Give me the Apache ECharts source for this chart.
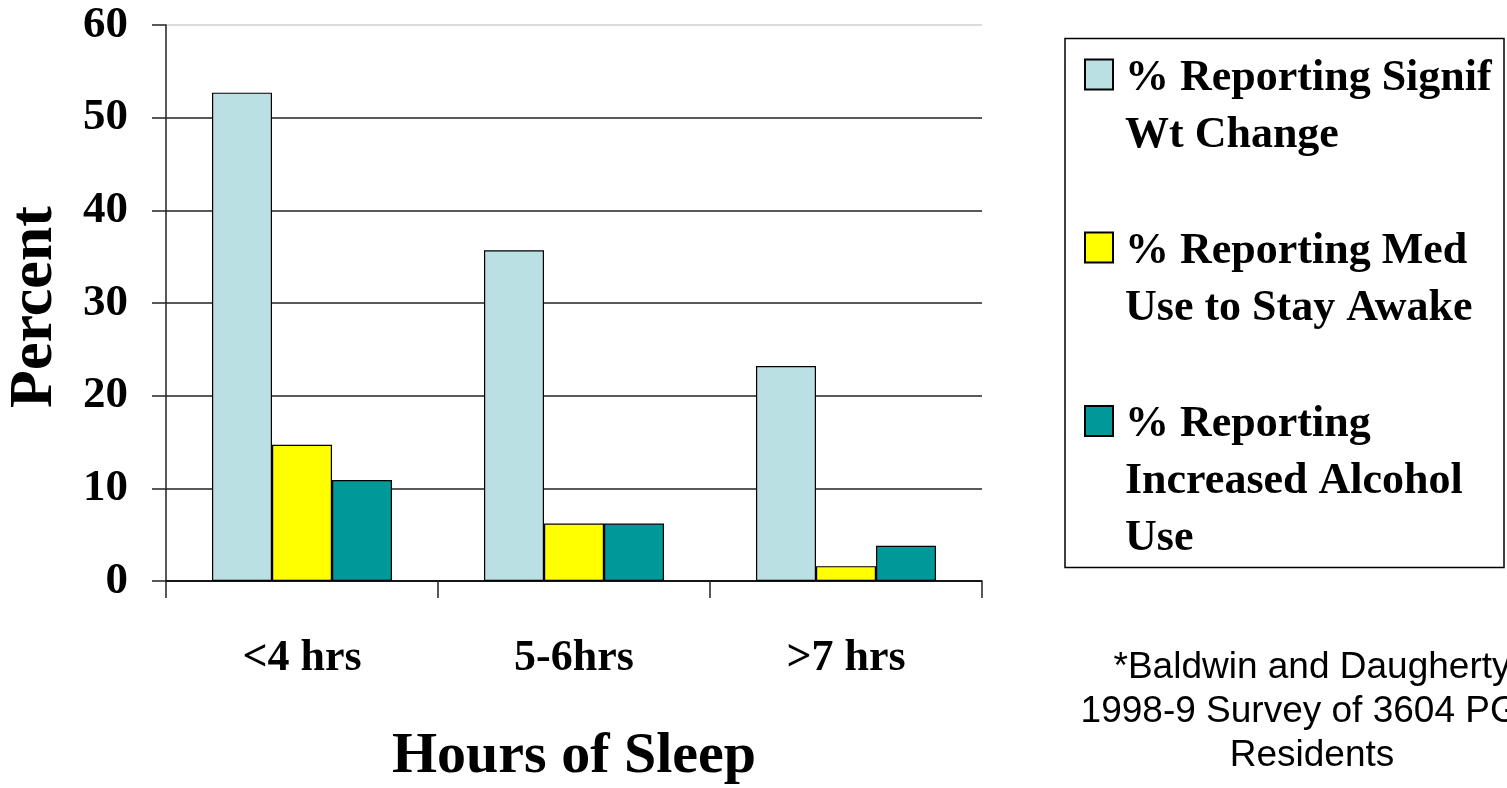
<!DOCTYPE html>
<html>
<head>
<meta charset="utf-8">
<script src="https://cdn.jsdelivr.net/npm/echarts@6/dist/echarts.min.js"></script>
<style>
html,body{margin:0;padding:0;background:#fff;}
#chart{width:1507px;height:788px;}
</style>
</head>
<body>
<div id="chart"></div>
<script>
const categories = ['<4 hrs', '5-6hrs', '>7 hrs'];
const wtChange = [52.7, 35.7, 23.2];
const medUse = [14.7, 6.2, 1.6];
const alcoholUse = [10.9, 6.2, 3.8];
const seriesNames = [
  '% Reporting Signif\nWt Change',
  '% Reporting Med\nUse to Stay Awake',
  '% Reporting\nIncreased Alcohol\nUse'
];
const seriesColors = ['#BBE0E3', '#FFFF00', '#009999'];
const yAxisTitle = 'Percent';
const xAxisTitle = 'Hours of Sleep';
const footnote = ['*Baldwin and Daugherty', '1998-9 Survey of 3604 PGY', 'Residents'];

const SERIF = '"Liberation Serif", "Times New Roman", serif';
const SANS = '"Liberation Sans", Arial, sans-serif';

const chart = echarts.init(document.getElementById('chart'), null, {renderer: 'canvas'});

const legendLineH = 57;
const legendShift = 4;
const legendTops = [-15, 158, 274.5];
function makeLegend(i) {
  const lines = seriesNames[i].split('\n').length;
  const spacerH = (lines - 1) * legendLineH + 2 * legendShift;
  return {
    data: [seriesNames[i]],
    left: 1084,
    top: legendTops[i],
    padding: 0,
    orient: 'vertical',
    itemWidth: 28,
    itemHeight: 30,
    icon: 'rect',
    selectedMode: false,
    formatter: name => '{s| }\n' + name.split('\n').map(l => '{t|' + l + '}').join('\n'),
    textStyle: {
      fontFamily: SERIF,
      fontWeight: 'bold',
      fontSize: 44,
      lineHeight: legendLineH,
      color: '#000',
      padding: [0, 0, 0, 7],
      backgroundColor: 'rgba(0,0,0,0)',
      rich: {
        s: {fontSize: 8, lineHeight: spacerH, height: spacerH},
        t: {fontFamily: SERIF, fontWeight: 'bold', fontSize: 44, lineHeight: legendLineH, color: '#000'}
      }
    }
  };
}

const dataSets = [wtChange, medUse, alcoholUse];

chart.setOption({
  animation: false,
  backgroundColor: '#fff',
  grid: {left: 166, right: 525, top: 25, bottom: 207, containLabel: false, outerBoundsMode: 'none'},
  legend: [makeLegend(0), makeLegend(1), makeLegend(2)],
  xAxis: {
    type: 'category',
    data: categories,
    boundaryGap: true,
    name: xAxisTitle,
    nameLocation: 'middle',
    nameGap: 147,
    nameTextStyle: {fontFamily: SERIF, fontWeight: 'bold', fontSize: 58, color: '#000'},
    axisLine: {show: true, lineStyle: {color: '#000', width: 1.5}},
    axisTick: {show: true, length: 17, inside: false, lineStyle: {color: '#222', width: 1.5}},
    axisLabel: {fontFamily: SERIF, fontWeight: 'bold', fontSize: 44, color: '#000', margin: 56},
    splitLine: {show: false}
  },
  yAxis: {
    type: 'value',
    min: 0,
    max: 60,
    interval: 10,
    name: yAxisTitle,
    nameLocation: 'middle',
    nameGap: 100,
    nameRotate: 90,
    nameTextStyle: {fontFamily: SERIF, fontWeight: 'bold', fontSize: 62, color: '#000', padding: [0, 8, 0, 0]},
    axisLine: {show: true, lineStyle: {color: '#222', width: 1.5}},
    axisTick: {show: true, length: 14, inside: false, lineStyle: {color: '#222', width: 1.5}},
    axisLabel: {fontFamily: SERIF, fontWeight: 'bold', fontSize: 45, color: '#000', margin: 38},
    splitLine: {
      show: true,
      lineStyle: {color: ['#222', '#222', '#222', '#222', '#222', '#222', '#d0d0d0'], width: 1.5}
    }
  },
  series: dataSets.map((d, i) => ({
    type: 'bar',
    name: seriesNames[i],
    data: d,
    barWidth: 60,
    barGap: '0%',
    itemStyle: {color: seriesColors[i], borderColor: '#000', borderWidth: 1.2}
  })),
  graphic: [
    {
      type: 'rect',
      shape: {x: 1065, y: 38.5, width: 439, height: 529},
      style: {fill: 'none', stroke: '#000', lineWidth: 1.5},
      silent: true,
      z: 1
    },
    {
      type: 'text',
      x: 1312,
      y: 646,
      style: {
        text: footnote.join('\n'),
        fontFamily: SANS,
        fontSize: 37,
        lineHeight: 44,
        fill: '#000',
        align: 'center',
        verticalAlign: 'top'
      },
      silent: true
    }
  ]
});
</script>
</body>
</html>
